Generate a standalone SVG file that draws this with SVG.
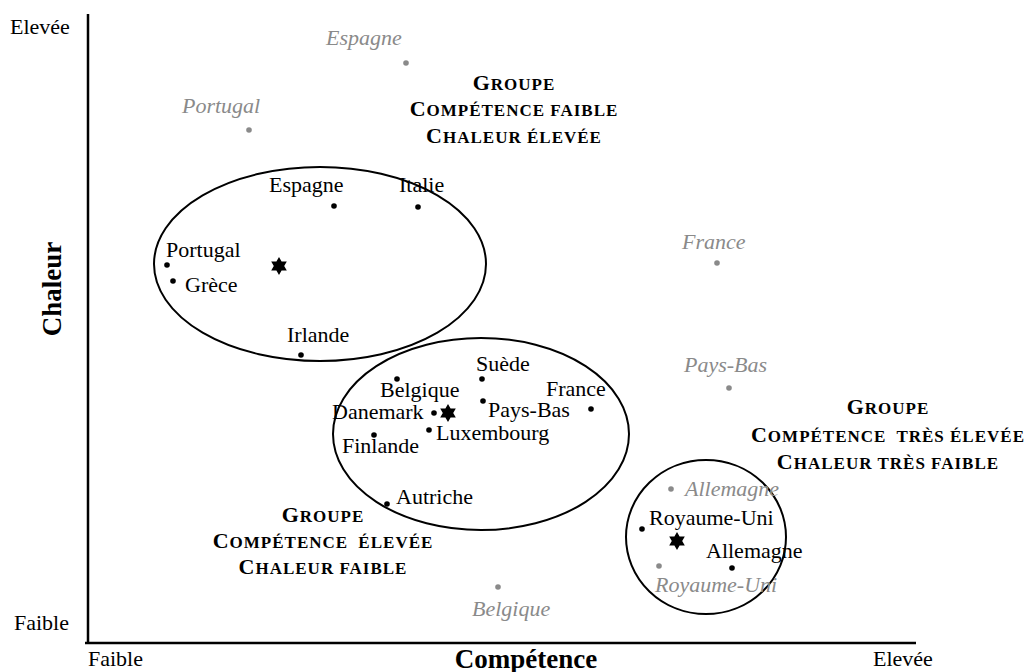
<svg xmlns="http://www.w3.org/2000/svg" width="1027" height="672" viewBox="0 0 1027 672">
<defs>
<style>
.t{font-family:"Liberation Serif","Times New Roman",serif;font-size:22px;fill:#000}
.g{font-family:"Liberation Serif","Times New Roman",serif;font-size:22px;font-style:italic;fill:#8a8a8a}
.ax{font-family:"Liberation Serif","Times New Roman",serif;font-size:22px;fill:#000}
.axb{font-family:"Liberation Serif","Times New Roman",serif;font-weight:bold;font-size:27px;fill:#000}
.grp{font-family:"Liberation Serif","Times New Roman",serif;font-weight:bold;font-size:17px;letter-spacing:1px;fill:#000;text-anchor:middle}
.cap{font-size:22px}
.el{fill:none;stroke:#000;stroke-width:2}
.axis{stroke:#000;stroke-width:2.5;fill:none}
.d{fill:#000}
.dg{fill:#8a8a8a}
</style>
<path id="star" d="M0,-9 L2.6,-4.5 L7.8,-4.5 L5.2,0 L7.8,4.5 L2.6,4.5 L0,9 L-2.6,4.5 L-7.8,4.5 L-5.2,0 L-7.8,-4.5 L-2.6,-4.5 Z" fill="#000"/>
</defs>
<rect width="1027" height="672" fill="#fff"/>

<g id="axes">
<line class="axis" x1="88" y1="14" x2="88" y2="644"/>
<line class="axis" x1="85" y1="643" x2="916" y2="643"/>
<text class="ax" x="10" y="34">Elevée</text>
<text class="ax" x="14" y="630">Faible</text>
<text class="ax" x="88" y="666">Faible</text>
<text class="ax" x="873" y="666">Elevée</text>
<text class="axb" x="526" y="668" text-anchor="middle">Compétence</text>
<text class="axb" x="0" y="0" text-anchor="middle" transform="translate(61,289) rotate(-90)">Chaleur</text>
</g>

<g id="clusters">
<ellipse id="cluster1" class="el" cx="320" cy="264" rx="166" ry="97"/>
<ellipse id="cluster2" class="el" cx="481" cy="434" rx="148" ry="96"/>
<ellipse id="cluster3" class="el" cx="706" cy="537" rx="80" ry="77"/>
</g>

<g id="group1-label">
<text class="grp" x="514" y="90"><tspan class="cap">G</tspan>ROUPE</text>
<text class="grp" x="514" y="116"><tspan class="cap">C</tspan>OMPÉTENCE FAIBLE</text>
<text class="grp" x="514" y="143"><tspan class="cap">C</tspan>HALEUR ÉLEVÉE</text>
</g>
<g id="group2-label">
<text class="grp" x="888" y="414"><tspan class="cap">G</tspan>ROUPE</text>
<text class="grp" x="888" y="442"><tspan class="cap">C</tspan>OMPÉTENCE <tspan dx="5">TRÈS ÉLEVÉE</tspan></text>
<text class="grp" x="888" y="469"><tspan class="cap">C</tspan>HALEUR TRÈS FAIBLE</text>
</g>
<g id="group3-label">
<text class="grp" x="323" y="522"><tspan class="cap">G</tspan>ROUPE</text>
<text class="grp" x="323" y="548"><tspan class="cap">C</tspan>OMPÉTENCE <tspan dx="5">ÉLEVÉE</tspan></text>
<text class="grp" x="323" y="574"><tspan class="cap">C</tspan>HALEUR FAIBLE</text>
</g>

<g id="grey-points">
<g id="g-espagne"><circle class="dg" cx="406" cy="63" r="2.8"/><text class="g" x="326" y="45">Espagne</text></g>
<g id="g-portugal"><circle class="dg" cx="249" cy="130" r="2.8"/><text class="g" x="182" y="113">Portugal</text></g>
<g id="g-france"><circle class="dg" cx="717" cy="263" r="2.8"/><text class="g" x="682" y="249">France</text></g>
<g id="g-paysbas"><circle class="dg" cx="729" cy="388" r="2.8"/><text class="g" x="684" y="372">Pays-Bas</text></g>
<g id="g-allemagne"><circle class="dg" cx="671" cy="489" r="2.8"/><text class="g" x="685" y="496">Allemagne</text></g>
<g id="g-royaumeuni"><circle class="dg" cx="659" cy="566" r="2.8"/><text class="g" x="655" y="592">Royaume-Uni</text></g>
<g id="g-belgique"><circle class="dg" cx="498" cy="587" r="2.8"/><text class="g" x="472" y="616">Belgique</text></g>
</g>

<g id="points">
<g id="espagne"><circle class="d" cx="334" cy="206" r="2.8"/><text class="t" x="269" y="192">Espagne</text></g>
<g id="italie"><circle class="d" cx="418" cy="207" r="2.8"/><text class="t" x="399" y="192">Italie</text></g>
<g id="portugal"><circle class="d" cx="167" cy="265" r="2.8"/><text class="t" x="166" y="257">Portugal</text></g>
<g id="grece"><circle class="d" cx="173" cy="281" r="2.8"/><text class="t" x="185" y="292">Grèce</text></g>
<g id="irlande"><circle class="d" cx="301" cy="355" r="2.8"/><text class="t" x="287" y="342">Irlande</text></g>
<g id="centre1"><use href="#star" x="279" y="266"/></g>
<g id="suede"><circle class="d" cx="482" cy="379" r="2.8"/><text class="t" x="476" y="371">Suède</text></g>
<g id="belgique"><circle class="d" cx="397" cy="379" r="2.8"/><text class="t" x="380" y="397">Belgique</text></g>
<g id="france"><circle class="d" cx="591" cy="409" r="2.8"/><text class="t" x="546" y="396">France</text></g>
<g id="danemark"><circle class="d" cx="434" cy="413" r="2.8"/><text class="t" x="332" y="419">Danemark</text></g>
<g id="centre2"><use href="#star" x="448" y="413"/></g>
<g id="paysbas"><circle class="d" cx="483" cy="401" r="2.8"/><text class="t" x="488" y="417">Pays-Bas</text></g>
<g id="luxembourg"><circle class="d" cx="429" cy="430" r="2.8"/><text class="t" x="436" y="440">Luxembourg</text></g>
<g id="finlande"><circle class="d" cx="374" cy="435" r="2.8"/><text class="t" x="342" y="453">Finlande</text></g>
<g id="autriche"><circle class="d" cx="387" cy="504" r="2.8"/><text class="t" x="396" y="504">Autriche</text></g>
<g id="royaumeuni"><circle class="d" cx="642" cy="529" r="2.8"/><text class="t" x="649" y="525">Royaume-Uni</text></g>
<g id="centre3"><use href="#star" x="677" y="541"/></g>
<g id="allemagne"><circle class="d" cx="732" cy="568" r="2.8"/><text class="t" x="706" y="558">Allemagne</text></g>
</g>
</svg>
